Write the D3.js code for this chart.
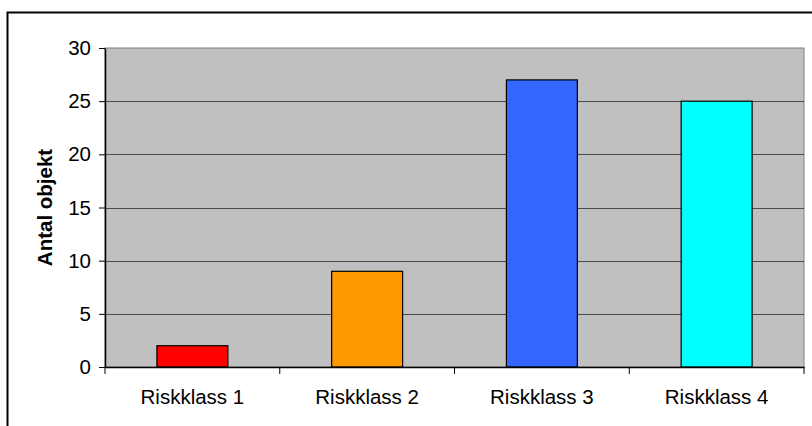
<!DOCTYPE html>
<html>
<head>
<meta charset="utf-8">
<script src="https://cdn.jsdelivr.net/npm/d3@7"></script>
<style>
  html, body { margin: 0; padding: 0; background: #fff; }
  svg { display: block; }
  text { font-family: Arial, "Liberation Sans", sans-serif; fill: #000; }
</style>
</head>
<body>
<script>
// Antal objekt per riskklass
const categories = ["Riskklass 1", "Riskklass 2", "Riskklass 3", "Riskklass 4"];
const values = [2, 9, 27, 25];
const barColors = ["#FF0000", "#FF9900", "#3366FF", "#00FFFF"];
const yTicks = [0, 5, 10, 15, 20, 25, 30];
const yTitle = "Antal objekt";

const W = 812, H = 426;
const plot = { left: 105, top: 48, right: 804, bottom: 367 };
const fontSize = 20.5;

const svg = d3.select("body").append("svg")
  .attr("width", W).attr("height", H);

// outer chart frame (runs past the right and bottom edges)
svg.append("rect")
  .attr("x", 7.5).attr("y", 12.5)
  .attr("width", W).attr("height", H)
  .attr("fill", "#fff").attr("stroke", "#000").attr("stroke-width", 2);

const x = d3.scaleBand()
  .domain(categories)
  .range([plot.left, plot.right])
  .paddingInner(0).paddingOuter(0);

const y = d3.scaleLinear()
  .domain([0, 30])
  .range([plot.bottom, plot.top]);

// plot area
svg.append("rect")
  .attr("x", plot.left).attr("y", plot.top)
  .attr("width", plot.right - plot.left).attr("height", plot.bottom - plot.top)
  .attr("fill", "#C0C0C0").attr("stroke", "#808080").attr("stroke-width", 1);

// horizontal gridlines
svg.append("g")
  .selectAll("line")
  .data(yTicks.filter(d => d > 0 && d < 30))
  .join("line")
  .attr("x1", plot.left).attr("x2", plot.right)
  .attr("y1", d => Math.round(y(d)) + 0.5).attr("y2", d => Math.round(y(d)) + 0.5)
  .attr("stroke", "#4a4a4a").attr("stroke-width", 1);

// bars
const barW = x.bandwidth() * 0.406;
svg.append("g")
  .selectAll("rect")
  .data(values)
  .join("rect")
  .attr("x", (d, i) => x(categories[i]) + (x.bandwidth() - barW) / 2)
  .attr("y", d => y(d))
  .attr("width", barW)
  .attr("height", d => y(0) - y(d))
  .attr("fill", (d, i) => barColors[i])
  .attr("stroke", "#000").attr("stroke-width", 1.2);

// y axis
const yAxis = svg.append("g")
  .attr("transform", `translate(${plot.left},0)`)
  .call(d3.axisLeft(y).tickValues(yTicks).tickSize(6).tickPadding(8).tickSizeOuter(0));
yAxis.select(".domain").attr("stroke", "#000").attr("stroke-width", 1.5);
yAxis.selectAll(".tick line").attr("stroke", "#000");
yAxis.selectAll(".tick text").attr("font-size", fontSize).attr("font-family", "Arial, 'Liberation Sans', sans-serif");

// x axis with ticks at category boundaries
const xAxis = svg.append("g")
  .attr("transform", `translate(0,${plot.bottom})`)
  .call(d3.axisBottom(x).tickSize(0).tickPadding(22).tickSizeOuter(0));
xAxis.select(".domain").attr("stroke", "#000").attr("stroke-width", 1.5);
xAxis.selectAll(".tick text").attr("font-size", fontSize).attr("font-family", "Arial, 'Liberation Sans', sans-serif");
xAxis.append("g")
  .selectAll("line")
  .data(categories.map(c => x(c)).concat([plot.right]))
  .join("line")
  .attr("x1", d => d).attr("x2", d => d)
  .attr("y1", 0).attr("y2", 7)
  .attr("stroke", "#000");

// y axis title
svg.append("text")
  .attr("transform", `translate(52,${(plot.top + plot.bottom) / 2}) rotate(-90)`)
  .attr("text-anchor", "middle")
  .attr("font-size", fontSize).attr("font-weight", "bold")
  .text(yTitle);
</script>
</body>
</html>
